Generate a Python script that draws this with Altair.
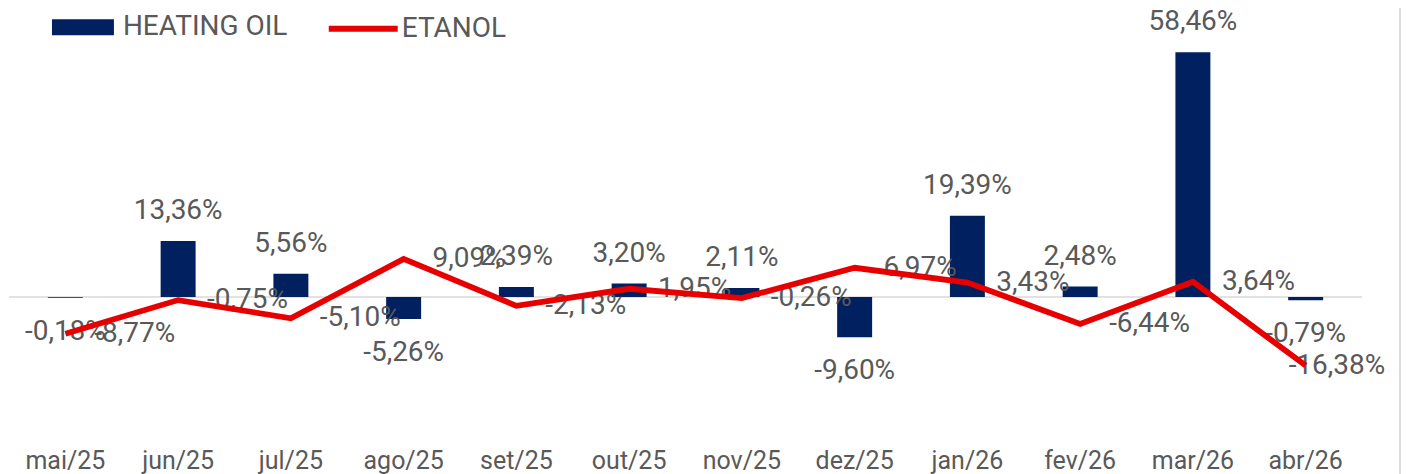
import altair as alt
import pandas as pd

months = ["mai/25", "jun/25", "jul/25", "ago/25", "set/25", "out/25",
          "nov/25", "dez/25", "jan/26", "fev/26", "mar/26", "abr/26"]
heating_oil = [-0.18, 13.36, 5.56, -5.26, 2.39, 3.20, 2.11, -9.60, 19.39, 2.48, 58.46, -0.79]
etanol = [-8.77, -0.75, -5.10, 9.09, -2.13, 1.95, -0.26, 6.97, 3.43, -6.44, 3.64, -16.38]
series_names = ["HEATING OIL", "ETANOL"]


def fmt(v):
    return f"{v:.2f}".replace(".", ",") + "%"


df = pd.DataFrame({"mes": months, "heating": heating_oil, "etanol": etanol})
df["heating_lbl"] = [fmt(v) for v in heating_oil]
df["etanol_lbl"] = [fmt(v) for v in etanol]
df["s_bar"] = series_names[0]
df["s_line"] = series_names[1]

NAVY = "#002060"
RED = "#E60000"
GRAY_TXT = "#595959"
FONT = "Roboto"

W, H = 1354, 432
yscale = alt.Scale(domain=[-34.13, 68.97], nice=False, zero=False)

xenc = alt.X("mes:N", sort=months, title=None,
             scale=alt.Scale(paddingInner=0, paddingOuter=0),
             axis=alt.Axis(domain=False, ticks=False, tickSize=0, labelAngle=0,
                           labelFont=FONT, labelFontSize=25, labelColor=GRAY_TXT,
                           labelPadding=9, grid=False))

base = alt.Chart(df)
zero_df = pd.DataFrame({"v": [0]})

zero = alt.Chart(zero_df).mark_rule(color="#D9D9D9", strokeWidth=1.5).encode(
    y=alt.Y("v:Q", scale=yscale, axis=None)
)

bars = base.mark_bar(size=35).encode(
    x=xenc,
    y=alt.Y("heating:Q", scale=yscale, axis=None),
    fill=alt.Fill("s_bar:N",
                  scale=alt.Scale(domain=[series_names[0]], range=[NAVY]),
                  legend=alt.Legend(orient="none", legendX=43, legendY=-12, title=None,
                                    symbolType="M-1,-0.258H1V0.258H-1Z", symbolSize=3844,
                                    symbolStrokeWidth=0, symbolOpacity=1,
                                    labelFont=FONT, labelFontSize=28, labelColor=GRAY_TXT,
                                    labelOffset=9, labelLimit=0, padding=0)),
)

lbl_common = dict(font=FONT, fontSize=28, color=GRAY_TXT)

bar_pos = base.transform_filter("datum.heating >= 0").mark_text(
    baseline="alphabetic", dy=-22, **lbl_common
).encode(x=xenc, y=alt.Y("heating:Q", scale=yscale, axis=None), text="heating_lbl:N")

bar_neg = base.transform_filter("datum.heating < 0").mark_text(
    baseline="alphabetic", dy=42, **lbl_common
).encode(x=xenc, y=alt.Y("heating:Q", scale=yscale, axis=None), text="heating_lbl:N")

last_month = months[-1]

line_lbl = base.transform_filter(f"datum.mes != '{last_month}'").mark_text(
    align="left", baseline="middle", dx=29, **lbl_common
).encode(x=xenc, y=alt.Y("etanol:Q", scale=yscale, axis=None), text="etanol_lbl:N")

line_lbl_last = base.transform_filter(f"datum.mes == '{last_month}'").mark_text(
    align="left", baseline="middle", dx=-17, **lbl_common
).encode(x=xenc, y=alt.Y("etanol:Q", scale=yscale, axis=None), text="etanol_lbl:N")

line = base.mark_line(strokeWidth=5.8).encode(
    x=xenc,
    y=alt.Y("etanol:Q", scale=yscale, axis=None),
    stroke=alt.Stroke("s_line:N",
                      scale=alt.Scale(domain=[series_names[1]], range=[RED]),
                      legend=alt.Legend(orient="none", legendX=317, legendY=-17, title=None,
                                        symbolType="stroke", symbolSize=4761,
                                        symbolStrokeWidth=6,
                                        labelFont=FONT, labelFontSize=28, labelColor=GRAY_TXT,
                                        labelOffset=1, labelLimit=0, padding=0)),
)

border = alt.Chart(zero_df).mark_rule(color="#D0D0D0", strokeWidth=1.5).encode(
    x=alt.value(1392), y=alt.value(-8), y2=alt.value(480)
)

chart = alt.layer(zero, bars, bar_pos, bar_neg, line_lbl, line_lbl_last, line, border).properties(
    width=W, height=H,
    padding={"left": 1, "top": 0, "right": 40, "bottom": 44},
    autosize=alt.AutoSizeParams(type="none"),
).configure_view(stroke=None)

chart.save("out.html", embed_options={"renderer": "svg", "actions": False})
